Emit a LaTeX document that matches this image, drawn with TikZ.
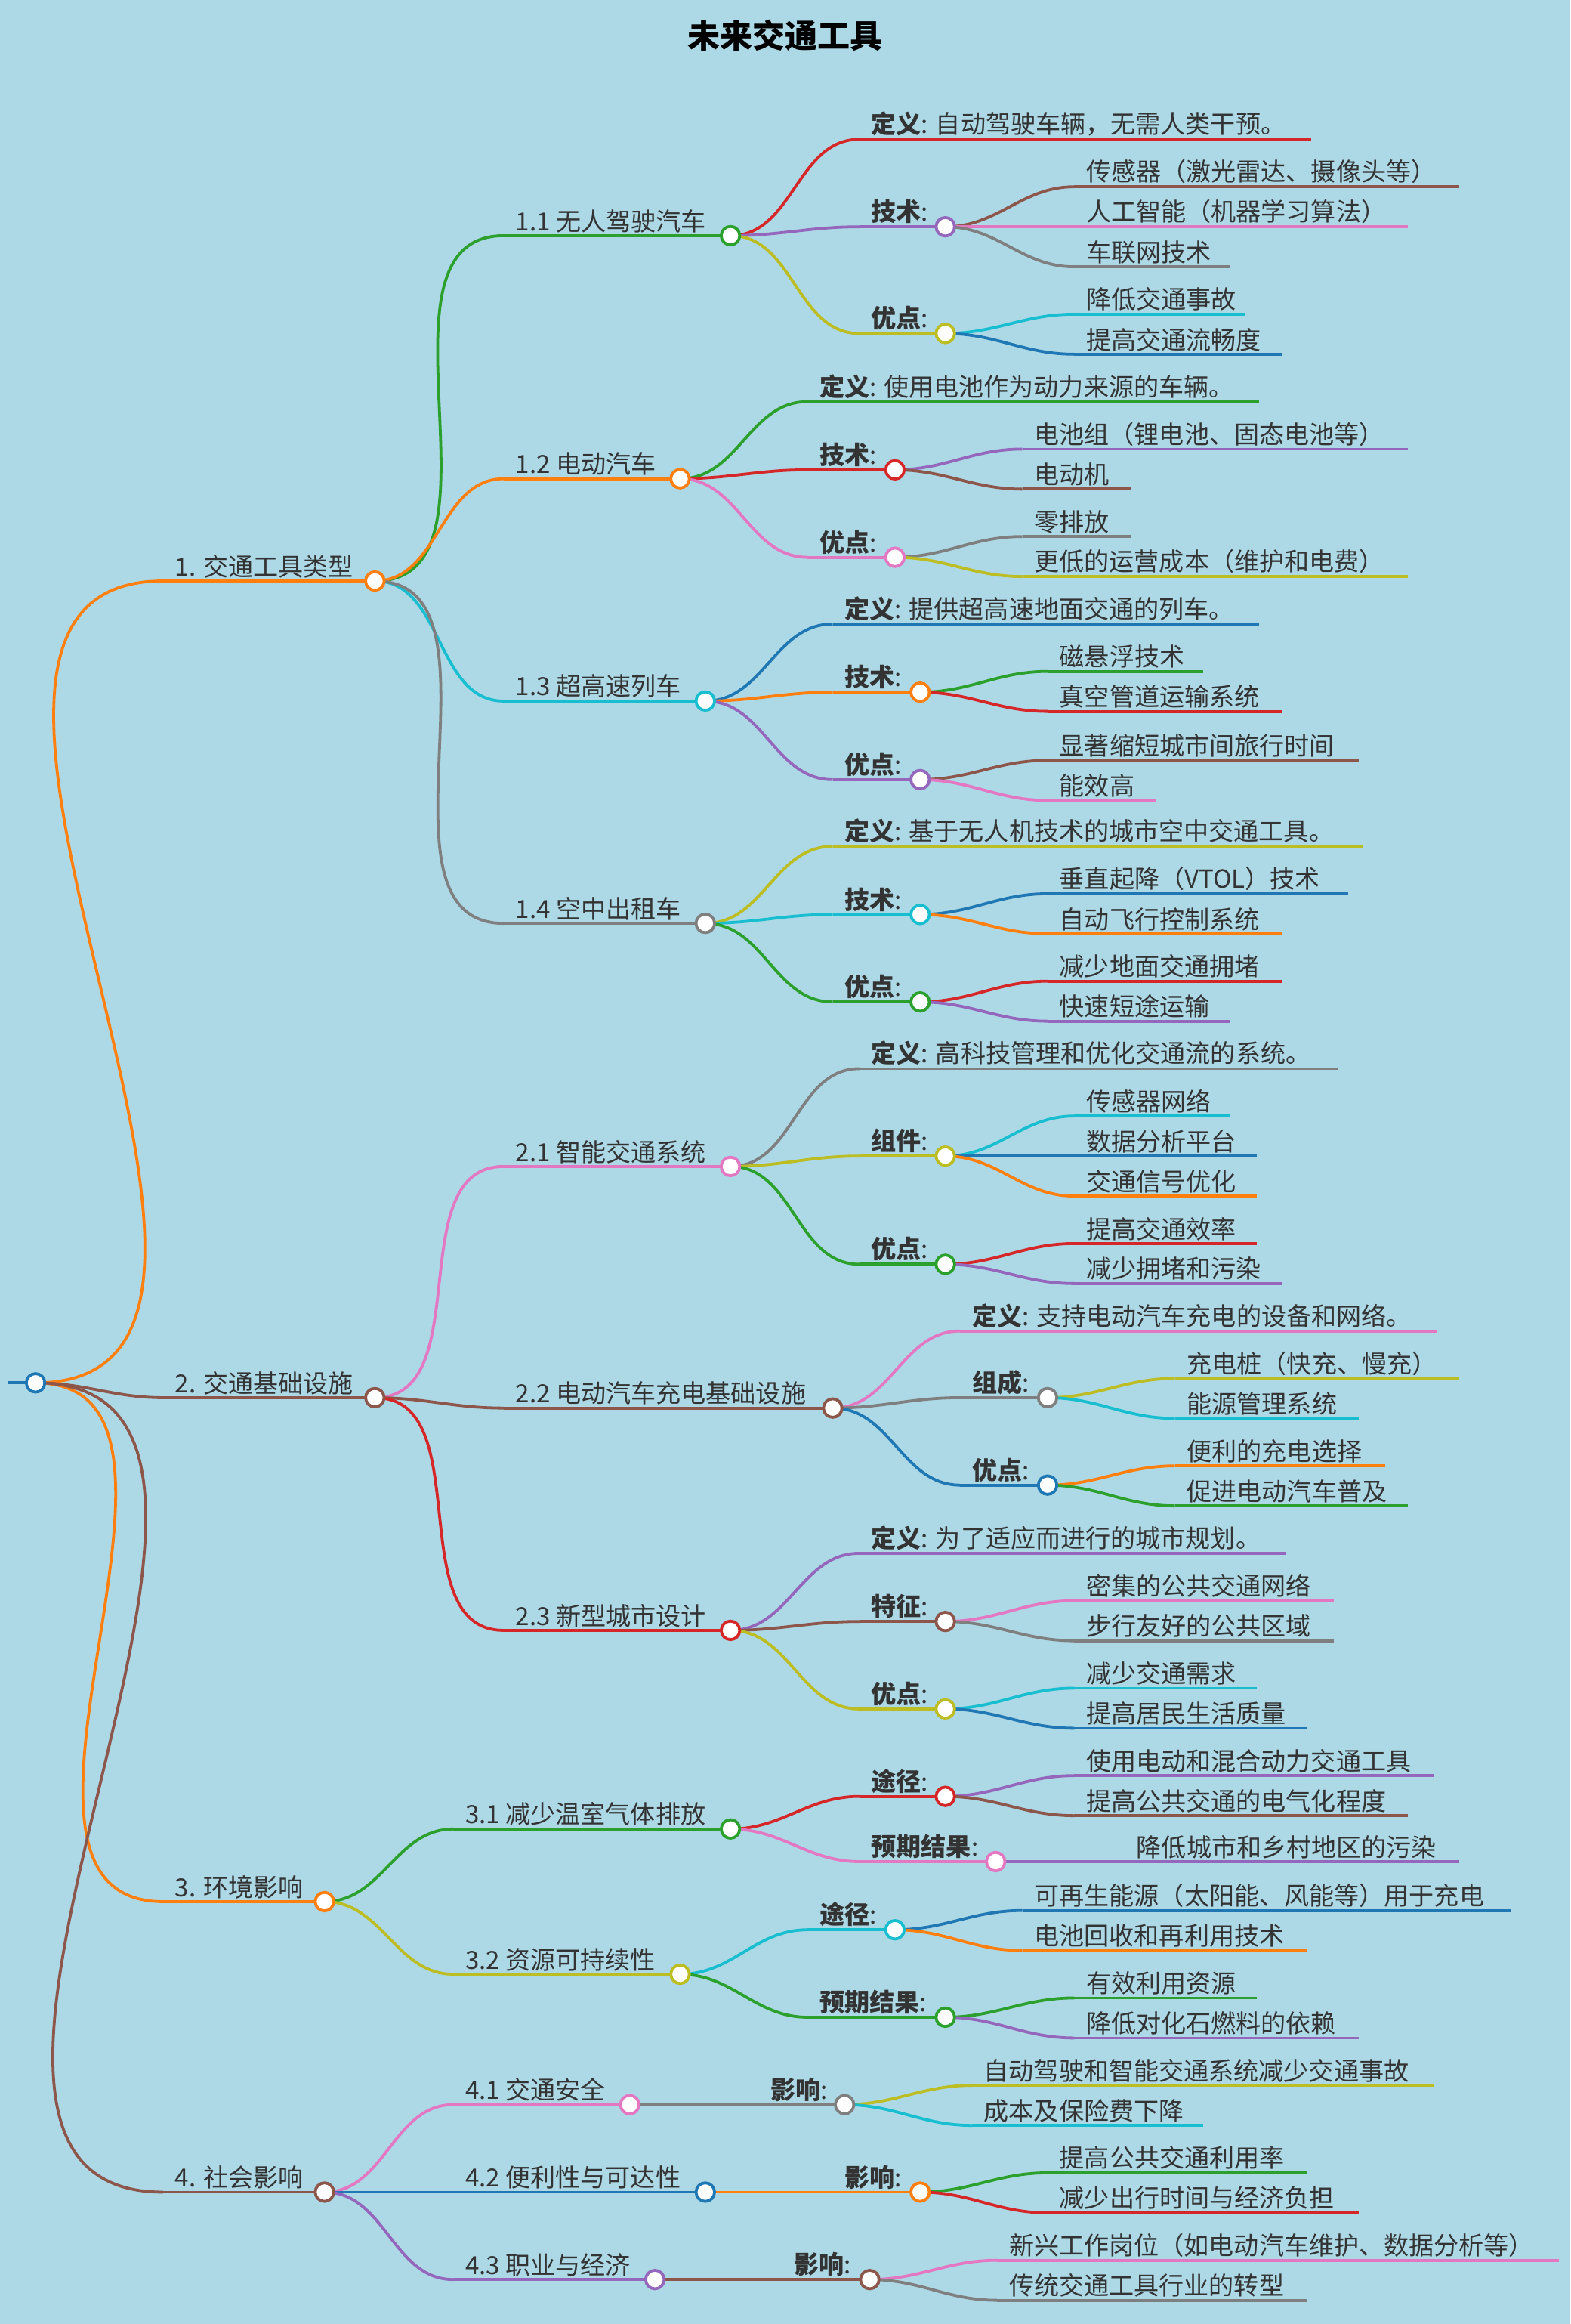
\documentclass[tikz,border=0pt]{standalone}
\usepackage{fontspec}
\setmainfont{Noto Sans CJK SC}
\usetikzlibrary{positioning}
\definecolor{bgblue}{HTML}{ADD8E6}
\definecolor{txt}{HTML}{333333}
\definecolor{cblue}{HTML}{1F77B4}
\definecolor{corange}{HTML}{FF7F0E}
\definecolor{cgreen}{HTML}{2CA02C}
\definecolor{cred}{HTML}{D62728}
\definecolor{cpurple}{HTML}{9467BD}
\definecolor{cbrown}{HTML}{8C564B}
\definecolor{cpink}{HTML}{E377C2}
\definecolor{cgray}{HTML}{7F7F7F}
\definecolor{colive}{HTML}{BCBD22}
\definecolor{ccyan}{HTML}{17BECF}
\pgfdeclarelayer{fg}
\pgfsetlayers{main,fg}
\tikzset{
  edge/.style={line width=1.1pt},
  lbl/.style={text=txt,font=\fontsize{9.6}{11}\selectfont,inner sep=1pt,anchor=south west},
  dot/.style={circle,draw,fill=white,line width=1.1pt,minimum size=0.25cm,inner sep=0pt}
}
% branch: name, parent, x start, x end, y, colour, text
\newcommand\mmbr[7]{%
  \coordinate (#1-l) at (#3,#5);
  \coordinate (#1) at (#4,#5);
  \draw[#6,edge] (#2) to[out=0,in=180] (#1-l);
  \draw[#6,edge] (#1-l) -- (#1);
  \node[lbl] (#1-t) at ([xshift=0.12cm]#1-l) {#7};}
% open circle at the end of a branch
\newcommand\mmdot[2]{%
  \begin{pgfonlayer}{fg}\node[dot,draw=#2] (#1-c) at (#1) {};\end{pgfonlayer}}
\begin{document}
\begin{tikzpicture}[x=0.02cm,y=-0.02cm]
\fill[bgblue] (0,0) rectangle (1060,1568);
\useasboundingbox (0,0) rectangle (1060,1568);
\node[text=black,font=\fontsize{12.5}{14}\selectfont\bfseries] (title) at (530,24) {未来交通工具};

% root
\coordinate (root) at (24,933);
\coordinate (root-s) at (5,933);
\draw[cblue,edge] (root-s) -- (root);
\mmdot{root}{cblue}

% 1
\mmbr{a}{root}{110}{253}{392}{corange}{1. 交通工具类型}\mmdot{a}{corange}
\mmbr{a1}{a}{340}{493}{159}{cgreen}{1.1 无人驾驶汽车}\mmdot{a1}{cgreen}
\mmbr{a1d}{a1}{580}{885}{94}{cred}{\textbf{定义}: 自动驾驶车辆，无需人类干预。}
\mmbr{a1j}{a1}{580}{638}{153}{cpurple}{\textbf{技术}:}\mmdot{a1j}{cpurple}
\mmbr{a1y}{a1}{580}{638}{225}{colive}{\textbf{优点}:}\mmdot{a1y}{colive}
\mmbr{a1j1}{a1j}{725}{985}{126}{cbrown}{传感器（激光雷达、摄像头等）}
\mmbr{a1j2}{a1j}{725}{950}{153}{cpink}{人工智能（机器学习算法）}
\mmbr{a1j3}{a1j}{725}{830}{180}{cgray}{车联网技术}
\mmbr{a1y1}{a1y}{725}{840}{212}{ccyan}{降低交通事故}
\mmbr{a1y2}{a1y}{725}{865}{239}{cblue}{提高交通流畅度}

\mmbr{a2}{a}{340}{459}{323}{corange}{1.2 电动汽车}\mmdot{a2}{corange}
\mmbr{a2d}{a2}{545}{850}{271}{cgreen}{\textbf{定义}: 使用电池作为动力来源的车辆。}
\mmbr{a2j}{a2}{545}{604}{317}{cred}{\textbf{技术}:}\mmdot{a2j}{cred}
\mmbr{a2y}{a2}{545}{604}{376}{cpink}{\textbf{优点}:}\mmdot{a2y}{cpink}
\mmbr{a2j1}{a2j}{690}{950}{303}{cpurple}{电池组（锂电池、固态电池等）}
\mmbr{a2j2}{a2j}{690}{763}{330}{cbrown}{电动机}
\mmbr{a2y1}{a2y}{690}{763}{362}{cgray}{零排放}
\mmbr{a2y2}{a2y}{690}{950}{389}{colive}{更低的运营成本（维护和电费）}

\mmbr{a3}{a}{340}{476}{473}{ccyan}{1.3 超高速列车}\mmdot{a3}{ccyan}
\mmbr{a3d}{a3}{562}{850}{421}{cblue}{\textbf{定义}: 提供超高速地面交通的列车。}
\mmbr{a3j}{a3}{562}{621}{467}{corange}{\textbf{技术}:}\mmdot{a3j}{corange}
\mmbr{a3y}{a3}{562}{621}{526}{cpurple}{\textbf{优点}:}\mmdot{a3y}{cpurple}
\mmbr{a3j1}{a3j}{707}{812}{453}{cgreen}{磁悬浮技术}
\mmbr{a3j2}{a3j}{707}{865}{480}{cred}{真空管道运输系统}
\mmbr{a3y1}{a3y}{707}{917}{513}{cbrown}{显著缩短城市间旅行时间}
\mmbr{a3y2}{a3y}{707}{780}{540}{cpink}{能效高}

\mmbr{a4}{a}{340}{476}{623}{cgray}{1.4 空中出租车}\mmdot{a4}{cgray}
\mmbr{a4d}{a4}{562}{920}{571}{colive}{\textbf{定义}: 基于无人机技术的城市空中交通工具。}
\mmbr{a4j}{a4}{562}{621}{617}{ccyan}{\textbf{技术}:}\mmdot{a4j}{ccyan}
\mmbr{a4y}{a4}{562}{621}{676}{cgreen}{\textbf{优点}:}\mmdot{a4y}{cgreen}
\mmbr{a4j1}{a4j}{707}{910}{603}{cblue}{垂直起降（VTOL）技术}
\mmbr{a4j2}{a4j}{707}{865}{630}{corange}{自动飞行控制系统}
\mmbr{a4y1}{a4y}{707}{865}{662}{cred}{减少地面交通拥堵}
\mmbr{a4y2}{a4y}{707}{830}{689}{cpurple}{快速短途运输}

% 2
\mmbr{b}{root}{110}{253}{943}{cbrown}{2. 交通基础设施}\mmdot{b}{cbrown}
\mmbr{b1}{b}{340}{493}{787}{cpink}{2.1 智能交通系统}\mmdot{b1}{cpink}
\mmbr{b1d}{b1}{580}{903}{721}{cgray}{\textbf{定义}: 高科技管理和优化交通流的系统。}
\mmbr{b1z}{b1}{580}{638}{780}{colive}{\textbf{组件}:}\mmdot{b1z}{colive}
\mmbr{b1y}{b1}{580}{638}{853}{cgreen}{\textbf{优点}:}\mmdot{b1y}{cgreen}
\mmbr{b1z1}{b1z}{725}{830}{753}{ccyan}{传感器网络}
\mmbr{b1z2}{b1z}{725}{848}{780}{cblue}{数据分析平台}
\mmbr{b1z3}{b1z}{725}{848}{807}{corange}{交通信号优化}
\mmbr{b1y1}{b1y}{725}{848}{839}{cred}{提高交通效率}
\mmbr{b1y2}{b1y}{725}{865}{866}{cpurple}{减少拥堵和污染}

\mmbr{b2}{b}{340}{562}{950}{cbrown}{2.2 电动汽车充电基础设施}\mmdot{b2}{cbrown}
\mmbr{b2d}{b2}{648}{970}{898}{cpink}{\textbf{定义}: 支持电动汽车充电的设备和网络。}
\mmbr{b2z}{b2}{648}{707}{943}{cgray}{\textbf{组成}:}\mmdot{b2z}{cgray}
\mmbr{b2y}{b2}{648}{707}{1002}{cblue}{\textbf{优点}:}\mmdot{b2y}{cblue}
\mmbr{b2z1}{b2z}{793}{985}{930}{colive}{充电桩（快充、慢充）}
\mmbr{b2z2}{b2z}{793}{917}{957}{ccyan}{能源管理系统}
\mmbr{b2y1}{b2y}{793}{935}{989}{corange}{便利的充电选择}
\mmbr{b2y2}{b2y}{793}{950}{1016}{cgreen}{促进电动汽车普及}

\mmbr{b3}{b}{340}{493}{1100}{cred}{2.3 新型城市设计}\mmdot{b3}{cred}
\mmbr{b3d}{b3}{580}{868}{1048}{cpurple}{\textbf{定义}: 为了适应而进行的城市规划。}
\mmbr{b3t}{b3}{580}{638}{1094}{cbrown}{\textbf{特征}:}\mmdot{b3t}{cbrown}
\mmbr{b3y}{b3}{580}{638}{1153}{colive}{\textbf{优点}:}\mmdot{b3y}{colive}
\mmbr{b3t1}{b3t}{725}{900}{1080}{cpink}{密集的公共交通网络}
\mmbr{b3t2}{b3t}{725}{900}{1107}{cgray}{步行友好的公共区域}
\mmbr{b3y1}{b3y}{725}{848}{1139}{ccyan}{减少交通需求}
\mmbr{b3y2}{b3y}{725}{882}{1166}{cblue}{提高居民生活质量}

% 3
\mmbr{c}{root}{110}{219}{1283}{corange}{3. 环境影响}\mmdot{c}{corange}
\mmbr{c1}{c}{306}{493}{1234}{cgreen}{3.1 减少温室气体排放}\mmdot{c1}{cgreen}
\mmbr{c1w}{c1}{580}{638}{1212}{cred}{\textbf{途径}:}\mmdot{c1w}{cred}
\mmbr{c1r}{c1}{580}{672}{1256}{cpink}{\textbf{预期结果}:}\mmdot{c1r}{cpink}
\mmbr{c1w1}{c1w}{725}{968}{1198}{cpurple}{使用电动和混合动力交通工具}
\mmbr{c1w2}{c1w}{725}{950}{1225}{cbrown}{提高公共交通的电气化程度}
\mmbr{c1r1}{c1r}{759}{985}{1256}{cpurple}{降低城市和乡村地区的污染}

\mmbr{c2}{c}{306}{459}{1332}{colive}{3.2 资源可持续性}\mmdot{c2}{colive}
\mmbr{c2w}{c2}{545}{604}{1302}{ccyan}{\textbf{途径}:}\mmdot{c2w}{ccyan}
\mmbr{c2r}{c2}{545}{638}{1361}{cgreen}{\textbf{预期结果}:}\mmdot{c2r}{cgreen}
\mmbr{c2w1}{c2w}{690}{1020}{1289}{cblue}{可再生能源（太阳能、风能等）用于充电}
\mmbr{c2w2}{c2w}{690}{882}{1316}{corange}{电池回收和再利用技术}
\mmbr{c2r1}{c2r}{725}{848}{1348}{cgreen}{有效利用资源}
\mmbr{c2r2}{c2r}{725}{917}{1375}{cpurple}{降低对化石燃料的依赖}

% 4
\mmbr{d}{root}{110}{219}{1479}{cbrown}{4. 社会影响}\mmdot{d}{cbrown}
\mmbr{d1}{d}{306}{425}{1420}{cpink}{4.1 交通安全}\mmdot{d1}{cpink}
\mmbr{d1x}{d1}{512}{570}{1420}{cgray}{\textbf{影响}:}\mmdot{d1x}{cgray}
\mmbr{d1x1}{d1x}{656}{968}{1407}{colive}{自动驾驶和智能交通系统减少交通事故}
\mmbr{d1x2}{d1x}{656}{812}{1434}{ccyan}{成本及保险费下降}

\mmbr{d2}{d}{306}{476}{1479}{cblue}{4.2 便利性与可达性}\mmdot{d2}{cblue}
\mmbr{d2x}{d2}{562}{621}{1479}{corange}{\textbf{影响}:}\mmdot{d2x}{corange}
\mmbr{d2x1}{d2x}{707}{882}{1466}{cgreen}{提高公共交通利用率}
\mmbr{d2x2}{d2x}{707}{917}{1493}{cred}{减少出行时间与经济负担}

\mmbr{d3}{d}{306}{442}{1538}{cpurple}{4.3 职业与经济}\mmdot{d3}{cpurple}
\mmbr{d3x}{d3}{528}{587}{1538}{cbrown}{\textbf{影响}:}\mmdot{d3x}{cbrown}
\mmbr{d3x1}{d3x}{673}{1052}{1525}{cpink}{新兴工作岗位（如电动汽车维护、数据分析等）}
\mmbr{d3x2}{d3x}{673}{882}{1552}{cgray}{传统交通工具行业的转型}
\end{tikzpicture}
\end{document}
